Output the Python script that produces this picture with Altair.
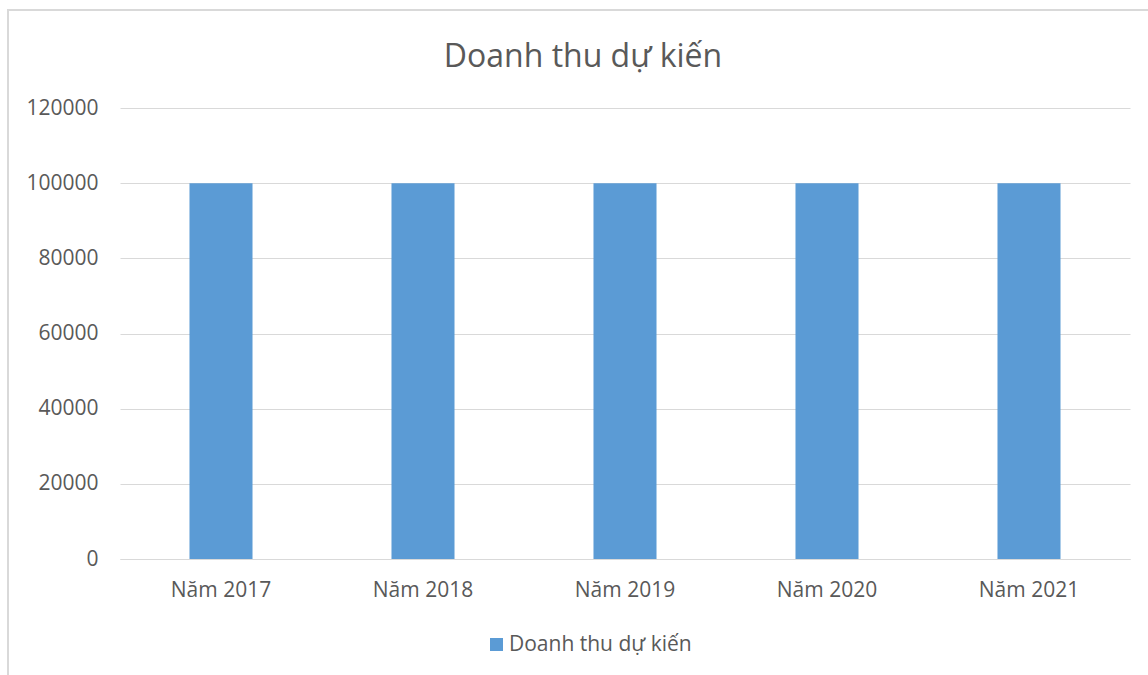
import altair as alt
import pandas as pd

years = ["Năm 2017", "Năm 2018", "Năm 2019", "Năm 2020", "Năm 2021"]
revenue = [100000, 100000, 100000, 100000, 100000]
series_name = "Doanh thu dự kiến"
y_ticks = [0, 20000, 40000, 60000, 80000, 100000, 120000]

df = pd.DataFrame({"year": years, "value": revenue, "series": [series_name] * len(years)})

FONT = "Open Sans"
TXT = "#595959"
GRID = "#D9D9D9"

bars = alt.Chart(df).mark_bar(color="#5B9BD5").encode(
    x=alt.X("year:N", sort=years,
            scale=alt.Scale(paddingInner=0.688, paddingOuter=0.344),
            axis=alt.Axis(title=None, labelAngle=0, labelFont=FONT, labelFontSize=21,
                          labelColor=TXT, ticks=False, domainColor=GRID, domainWidth=1,
                          labelPadding=20, grid=False)),
    y=alt.Y("value:Q", scale=alt.Scale(domain=[0, 120000], nice=False),
            axis=alt.Axis(title=None, values=y_ticks, format="d", labelFont=FONT,
                          labelFontSize=21, labelColor=TXT, ticks=False, domain=False,
                          gridColor=GRID, gridWidth=1, labelPadding=22)),
    fill=alt.Fill("series:N", scale=alt.Scale(range=["#5B9BD5"]),
                  legend=alt.Legend(title=None, orient="none", legendX=366, legendY=526,
                                    symbolType="square", symbolSize=169, symbolStrokeWidth=0,
                                    labelFont=FONT, labelFontSize=21, labelColor=TXT,
                                    labelOffset=2, labelLimit=400)),
)

border = alt.Chart(df).mark_rect(fill=None, stroke="#D9D9D9", strokeWidth=1.5).encode(
    x=alt.value(-112), y=alt.value(-98), x2=alt.value(1040), y2=alt.value(600)
)

chart = alt.layer(border, bars).properties(
    width=1010,
    height=451,
    background="white",
    padding={"left": 120, "top": 108, "right": 18, "bottom": 116},
    autosize=alt.AutoSizeParams(type="none"),
    title=alt.TitleParams(series_name, font=FONT, fontSize=32, fontWeight="normal",
                          color=TXT, anchor="middle", frame="group", dx=-42, dy=98,
                          offset=33),
).configure_view(strokeWidth=0)

chart.save("out.html", embed_options={"renderer": "svg", "actions": False})
